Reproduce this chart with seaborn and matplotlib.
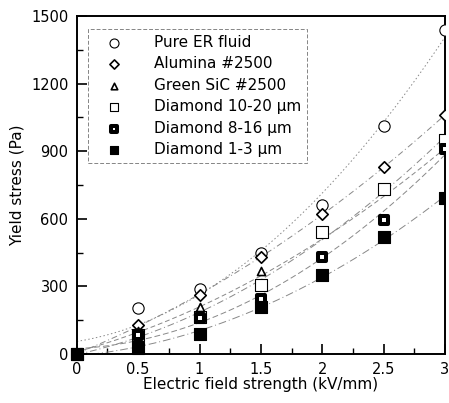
import numpy as np
import pandas as pd
import matplotlib
matplotlib.use("Agg")
import matplotlib.pyplot as plt
import seaborn as sns
from matplotlib.transforms import Bbox, TransformedBbox
from matplotlib.ticker import MultipleLocator

field = [0, 0.5, 1.0, 1.5, 2.0, 2.5, 3.0]
series_names = ["Pure ER fluid", "Alumina #2500", "Green SiC #2500",
                "Diamond 10-20 \u03bcm", "Diamond 8-16 \u03bcm", "Diamond 1-3 \u03bcm"]
pure_er = [0, 203, 290, 450, 662, 1010, 1440]
alumina = [0, 128, 262, 428, 620, 830, 1060]
green_sic = [0, 100, 207, 370, 545, 600, 960]
diamond_10_20 = [0, 85, 165, 305, 540, 730, 950]
diamond_8_16 = [0, 85, 160, 245, 430, 595, 910]
diamond_1_3 = [0, 26, 90, 207, 348, 518, 690]
x_ticks = [0, 0.5, 1, 1.5, 2, 2.5, 3]
x_tick_labels = ["0", "0.5", "1", "1.5", "2", "2.5", "3"]
y_ticks = [0, 300, 600, 900, 1200, 1500]

values = [pure_er, alumina, green_sic, diamond_10_20, diamond_8_16, diamond_1_3]
markers = ["o", "D", "^", "s", "s", "s"]
msizes = [66, 34, 34, 64, 33, 64]
faces = ["white", "white", "white", "white", "white", "black"]
edgew = [0.8, 1.2, 1.2, 0.8, 2.9, 0.8]
dashes = [(0, (1.5, 2.5)), (0, (6, 3, 1, 3)), (0, (5, 3)), (0, (7, 3, 1, 3)),
          (0, (6, 3)), (0, (8, 3, 1, 3))]

sns.set_style("white")
plt.rcParams['font.family'] = ['DejaVu Sans']
plt.rcParams['text.color'] = 'black'
plt.rcParams['axes.labelcolor'] = 'black'
plt.rcParams['xtick.color'] = 'black'
plt.rcParams['ytick.color'] = 'black'
fig = plt.figure(figsize=(4.49, 4.03), dpi=100)
ax = fig.add_axes([0.171, 0.122, 0.82, 0.838])

clipbb = TransformedBbox(Bbox([[-0.05, -0.05], [1.0, 1.0]]), ax.transAxes)
xf = np.linspace(0, 3, 200)
for name, vals, m, s, fc, ew, ds in zip(series_names, values, markers, msizes, faces, edgew, dashes):
    coef = np.polyfit(field, vals, 2)
    fit = pd.DataFrame({"x": xf, "y": np.polyval(coef, xf)})
    sns.lineplot(data=fit, x="x", y="y", ax=ax, color="#888888", lw=0.7,
                 linestyle=ds, legend=False)
    df = pd.DataFrame({"x": field, "y": vals})
    sns.scatterplot(data=df, x="x", y="y", ax=ax, marker=m, s=s, facecolor=fc,
                    edgecolor="black", linewidth=ew, label=name, zorder=3)
for c in ax.collections:
    c.set_clip_box(clipbb)

ax.set_xlim(0, 3)
ax.set_ylim(0, 1500)
ax.set_xticks(x_ticks)
ax.set_xticklabels(x_tick_labels)
ax.set_yticks(y_ticks)
ax.xaxis.set_minor_locator(MultipleLocator(0.25))
ax.yaxis.set_minor_locator(MultipleLocator(150))
ax.tick_params(which="major", direction="in", length=7, width=1.2, labelsize=10.5,
               bottom=True, left=True, top=False, right=False, pad=6)
ax.tick_params(which="minor", direction="in", length=4, width=1.0,
               bottom=True, left=True, top=False, right=False)
for sp in ax.spines.values():
    sp.set_linewidth(1.4)
    sp.set_color("black")
ax.set_xlabel("Electric field strength (kV/mm)", fontsize=11, labelpad=0)
ax.set_ylabel("Yield stress (Pa)", fontsize=11, labelpad=5)

leg = ax.legend(loc="upper left", bbox_to_anchor=(0.01, 0.985), fontsize=11,
                frameon=True, fancybox=False, handletextpad=1.3, labelspacing=0.42,
                borderpad=0.4, handlelength=2.6, markerscale=0.8)
fr = leg.get_frame()
fr.set_edgecolor("#666666")
fr.set_linestyle((0, (4, 2)))
fr.set_linewidth(0.7)

fig.savefig("out.png", dpi=100)
